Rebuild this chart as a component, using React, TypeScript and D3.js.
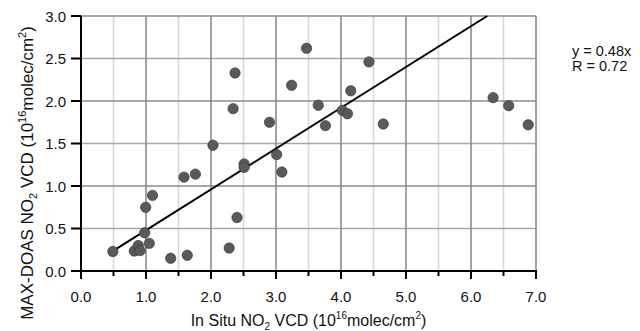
import { useEffect, useRef } from "react"
import * as d3 from "d3"

// In situ vs MAX-DOAS NO2 vertical column densities (10^16 molec/cm^2)
const inSitu = [
  0.49, 0.82, 0.88, 0.91, 0.98, 1.05, 0.995, 1.1, 1.38, 1.635, 1.585, 1.76,
  2.28, 2.4, 2.51, 2.51, 3.01, 3.09, 2.03, 2.34, 2.37, 2.9, 3.24, 3.47, 3.65,
  3.76, 4.02, 4.1, 4.15, 4.43, 4.65, 6.34, 6.58, 6.88,
]
const maxDoas = [
  0.23, 0.235, 0.3, 0.24, 0.45, 0.325, 0.75, 0.89, 0.15, 0.185, 1.105, 1.14,
  0.27, 0.63, 1.26, 1.22, 1.37, 1.165, 1.48, 1.91, 2.33, 1.75, 2.185, 2.62,
  1.95, 1.71, 1.89, 1.85, 2.12, 2.46, 1.73, 2.04, 1.945, 1.72,
]

const slope = 0.48
const fitStart = 0.5
const fitLabels = ["y = 0.48x", "R = 0.72"]

const xTicks = [0, 1, 2, 3, 4, 5, 6, 7]
const yTicks = [0, 0.5, 1, 1.5, 2, 2.5, 3]
const xMinor = [0.5, 1.5, 2.5, 3.5, 4.5, 5.5, 6.5]

const W = 640
const H = 331
const FONT = "'Liberation Sans', Arial, sans-serif"

// appends "NO2 VCD (10^16 molec/cm^2)" style runs to a text node
function unitLabel(t: d3.Selection<SVGTextElement, unknown, null, undefined>, head: string, small: number) {
  t.append("tspan").text(head + "NO")
  t.append("tspan").attr("font-size", small).attr("dy", 4).text("2")
  t.append("tspan").attr("dy", -4).text(" VCD (10")
  t.append("tspan").attr("font-size", small).attr("dy", -7).text("16")
  t.append("tspan").attr("dy", 7).text("molec/cm")
  t.append("tspan").attr("font-size", small).attr("dy", -7).text("2")
  t.append("tspan").attr("dy", 7).text(")")
}

type Seg = [number, number, number, number]

export default function App() {
  const ref = useRef<SVGSVGElement>(null)

  useEffect(() => {
    if (!ref.current) return
    const svg = d3.select(ref.current)
    svg.selectAll("*").remove()

    const x = d3.scaleLinear().domain([0, 7]).range([81, 536])
    const y = d3.scaleLinear().domain([0, 3]).range([271, 16])

    svg.append("rect").attr("width", W).attr("height", H).attr("fill", "white")

    const segs = (list: Seg[]) => list.map(([a, b, c, d]) => `M${a},${b}L${c},${d}`).join("")
    const addPath = (d: string, stroke: string, width: number) =>
      svg.append("path").attr("d", d).attr("fill", "none").attr("stroke", stroke).attr("stroke-width", width)

    // grid
    addPath(segs(xMinor.map((d) => [x(d), y(0), x(d), y(3)])), "#d8d8d8", 1.6)
    addPath(
      segs(yTicks.filter((d) => !Number.isInteger(d)).map((d) => [x(0), y(d), x(7), y(d)])),
      "#a8a8a8",
      1.6,
    )
    addPath(
      segs([
        ...xTicks.slice(1).map((d) => [x(d), y(0), x(d), y(3)] as Seg),
        ...yTicks.filter((d) => d > 0 && Number.isInteger(d)).map((d) => [x(0), y(d), x(7), y(d)] as Seg),
        [x(0), y(3), x(7), y(3)],
      ]),
      "#8c8c8c",
      1.6,
    )

    // fit line
    const line = d3.line<number>().x((d) => x(d)).y((d) => y(d * slope))
    svg.append("path")
      .attr("d", line([fitStart, 3 / slope]))
      .attr("fill", "none")
      .attr("stroke", "black")
      .attr("stroke-width", 2)

    // points
    svg.append("g")
      .selectAll("circle")
      .data(inSitu.map((v, i) => [v, maxDoas[i]]))
      .join("circle")
      .attr("cx", (d) => x(d[0]))
      .attr("cy", (d) => y(d[1]))
      .attr("r", 5.2)
      .attr("fill", "#5a5a5a")
      .attr("stroke", "#333")
      .attr("stroke-width", 0.6)

    // axis lines and ticks
    const y0 = y(0)
    const x0 = x(0)
    addPath(`M${x0},${y(3)}L${x0},${y0 + 1}M${x0 - 1},${y0}L${x(7) + 1},${y0}`, "black", 2)
    addPath(
      segs([
        ...xTicks.map((d) => [x(d), y0, x(d), y0 + 8] as Seg),
        ...xMinor.map((d) => [x(d), y0, x(d), y0 + 5] as Seg),
        ...yTicks.map((d) => [x0 - 10, y(d), x0, y(d)] as Seg),
      ]),
      "black",
      2,
    )

    // tick labels
    svg.append("g")
      .selectAll("text")
      .data(xTicks)
      .join("text")
      .attr("x", (d) => x(d))
      .attr("y", 302)
      .attr("text-anchor", "middle")
      .attr("font-size", 15).attr("font-family", FONT).attr("fill", "#111")
      .text((d) => d3.format(".1f")(d))
    svg.append("g")
      .selectAll("text")
      .data(yTicks)
      .join("text")
      .attr("x", 66)
      .attr("y", (d) => y(d) + 5.5)
      .attr("text-anchor", "end")
      .attr("font-size", 15).attr("font-family", FONT).attr("fill", "#111")
      .text((d) => d3.format(".1f")(d))

    // axis titles
    const xt = svg.append("text")
      .attr("x", 308.5).attr("y", 326)
      .attr("text-anchor", "middle")
      .attr("font-size", 16).attr("font-family", FONT).attr("fill", "#111")
    unitLabel(xt, "In Situ ", 10)

    const yt = svg.append("text")
      .attr("transform", "translate(33,173) rotate(-90)")
      .attr("text-anchor", "middle")
      .attr("font-size", 17).attr("font-family", FONT).attr("fill", "#111")
    unitLabel(yt, "MAX-DOAS ", 11)

    // fit annotation
    svg.append("g")
      .selectAll("text")
      .data(fitLabels)
      .join("text")
      .attr("x", 572)
      .attr("y", (_, i) => 55.5 + i * 15)
      .attr("font-size", 14.5)
      .attr("font-family", FONT)
      .attr("fill", "#111")
      .text((d) => d)
  }, [])

  return (
    <svg
      ref={ref}
      width={W}
      height={H}
      style={{ position: "absolute", left: 0, top: 0, display: "block" }}
    />
  )
}
